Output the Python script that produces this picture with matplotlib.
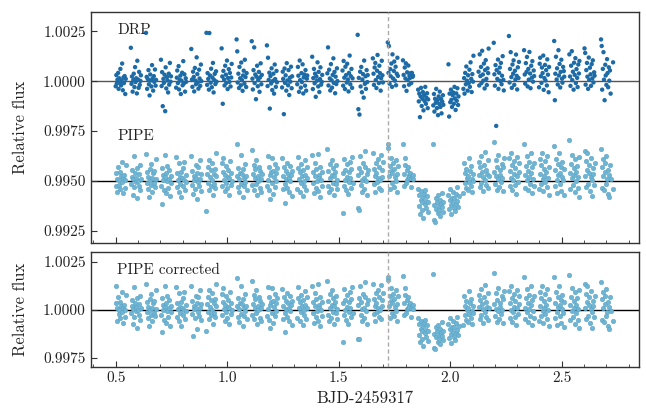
import matplotlib
matplotlib.use("Agg")
import matplotlib.pyplot as plt
from matplotlib.ticker import MultipleLocator, FormatStrFormatter
import numpy as np

# ---------------- data ----------------
# time (BJD - 2459317), one row per CHEOPS orbit segment
time_bjd = [
    0.500, 0.503, 0.505, 0.508, 0.511, 0.513, 0.516, 0.519, 0.521, 0.524, 0.527, 0.529, 0.532, 0.535, 0.537, 0.540, 0.543, 0.545,
    0.568, 0.571, 0.573, 0.576, 0.579, 0.581, 0.584, 0.587, 0.589, 0.592, 0.595, 0.597, 0.600, 0.603, 0.605, 0.608, 0.611, 0.613,
    0.636, 0.639, 0.641, 0.644, 0.647, 0.649, 0.652, 0.655, 0.657, 0.660, 0.663, 0.665, 0.668, 0.671, 0.673, 0.676, 0.679, 0.681,
    0.703, 0.706, 0.708, 0.711, 0.714, 0.716, 0.719, 0.722, 0.724, 0.727, 0.730, 0.732, 0.735, 0.738, 0.740, 0.743, 0.746, 0.748,
    0.771, 0.774, 0.776, 0.779, 0.782, 0.784, 0.787, 0.790, 0.792, 0.795, 0.798, 0.800, 0.803, 0.806, 0.808, 0.811, 0.814, 0.816,
    0.839, 0.842, 0.844, 0.847, 0.850, 0.852, 0.855, 0.858, 0.860, 0.863, 0.866, 0.868, 0.871, 0.874, 0.876, 0.879, 0.882, 0.884,
    0.907, 0.910, 0.912, 0.915, 0.918, 0.920, 0.923, 0.926, 0.928, 0.931, 0.934, 0.936, 0.939, 0.942, 0.944, 0.947, 0.950, 0.952,
    0.975, 0.978, 0.980, 0.983, 0.986, 0.988, 0.991, 0.994, 0.996, 0.999, 1.002, 1.004, 1.007, 1.010, 1.012, 1.015, 1.018, 1.020,
    1.042, 1.045, 1.047, 1.050, 1.053, 1.055, 1.058, 1.061, 1.063, 1.066, 1.069, 1.071, 1.074, 1.077, 1.079, 1.082, 1.085, 1.087,
    1.110, 1.113, 1.115, 1.118, 1.121, 1.123, 1.126, 1.129, 1.131, 1.134, 1.137, 1.139, 1.142, 1.145, 1.147, 1.150, 1.153, 1.155,
    1.178, 1.181, 1.183, 1.186, 1.189, 1.191, 1.194, 1.197, 1.199, 1.202, 1.205, 1.207, 1.210, 1.213, 1.215, 1.218, 1.221, 1.223,
    1.246, 1.249, 1.251, 1.254, 1.257, 1.259, 1.262, 1.265, 1.267, 1.270, 1.273, 1.275, 1.278, 1.281, 1.283, 1.286, 1.289, 1.291,
    1.314, 1.317, 1.319, 1.322, 1.325, 1.327, 1.330, 1.333, 1.335, 1.338, 1.341, 1.343, 1.346, 1.349, 1.351, 1.354, 1.357, 1.359,
    1.381, 1.384, 1.386, 1.389, 1.392, 1.394, 1.397, 1.400, 1.402, 1.405, 1.408, 1.410, 1.413, 1.416, 1.418, 1.421, 1.424, 1.426,
    1.449, 1.452, 1.454, 1.457, 1.460, 1.462, 1.465, 1.468, 1.470, 1.473, 1.476, 1.478, 1.481, 1.484, 1.486, 1.489, 1.492, 1.494,
    1.517, 1.520, 1.522, 1.525, 1.528, 1.530, 1.533, 1.536, 1.538, 1.541, 1.544, 1.546, 1.549, 1.552, 1.554, 1.557, 1.560, 1.562,
    1.585, 1.588, 1.590, 1.593, 1.596, 1.598, 1.601, 1.604, 1.606, 1.609, 1.612, 1.614, 1.617, 1.620, 1.622, 1.625, 1.628, 1.630,
    1.653, 1.656, 1.658, 1.661, 1.664, 1.666, 1.669, 1.672, 1.674, 1.677, 1.680, 1.682, 1.685, 1.688, 1.690, 1.693, 1.696, 1.698,
    1.720, 1.723, 1.725, 1.728, 1.731, 1.733, 1.736, 1.739, 1.741, 1.744, 1.747, 1.749, 1.752, 1.755, 1.757, 1.760, 1.763, 1.765,
    1.788, 1.791, 1.793, 1.796, 1.799, 1.801, 1.804, 1.807, 1.809, 1.812, 1.815, 1.817, 1.820, 1.823, 1.825, 1.828, 1.831, 1.833,
    1.856, 1.859, 1.861, 1.864, 1.867, 1.869, 1.872, 1.875, 1.877, 1.880, 1.883, 1.885, 1.888, 1.891, 1.893, 1.896, 1.899, 1.901,
    1.924, 1.927, 1.929, 1.932, 1.935, 1.937, 1.940, 1.943, 1.945, 1.948, 1.951, 1.953, 1.956, 1.959, 1.961, 1.964, 1.967, 1.969,
    1.992, 1.995, 1.997, 2.000, 2.003, 2.005, 2.008, 2.011, 2.013, 2.016, 2.019, 2.021, 2.024, 2.027, 2.029, 2.032, 2.035, 2.037,
    2.059, 2.062, 2.064, 2.067, 2.070, 2.072, 2.075, 2.078, 2.080, 2.083, 2.086, 2.088, 2.091, 2.094, 2.096, 2.099, 2.102, 2.104,
    2.127, 2.130, 2.132, 2.135, 2.138, 2.140, 2.143, 2.146, 2.148, 2.151, 2.154, 2.156, 2.159, 2.162, 2.164, 2.167, 2.170, 2.172,
    2.195, 2.198, 2.200, 2.203, 2.206, 2.208, 2.211, 2.214, 2.216, 2.219, 2.222, 2.224, 2.227, 2.230, 2.232, 2.235, 2.238, 2.240,
    2.263, 2.266, 2.268, 2.271, 2.274, 2.276, 2.279, 2.282, 2.284, 2.287, 2.290, 2.292, 2.295, 2.298, 2.300, 2.303, 2.306, 2.308,
    2.331, 2.334, 2.336, 2.339, 2.342, 2.344, 2.347, 2.350, 2.352, 2.355, 2.358, 2.360, 2.363, 2.366, 2.368, 2.371, 2.374, 2.376,
    2.398, 2.401, 2.403, 2.406, 2.409, 2.411, 2.414, 2.417, 2.419, 2.422, 2.425, 2.427, 2.430, 2.433, 2.435, 2.438, 2.441, 2.443,
    2.466, 2.469, 2.471, 2.474, 2.477, 2.479, 2.482, 2.485, 2.487, 2.490, 2.493, 2.495, 2.498, 2.501, 2.503, 2.506, 2.509, 2.511,
    2.534, 2.537, 2.539, 2.542, 2.545, 2.547, 2.550, 2.553, 2.555, 2.558, 2.561, 2.563, 2.566, 2.569, 2.571, 2.574, 2.577, 2.579,
    2.602, 2.605, 2.607, 2.610, 2.613, 2.615, 2.618, 2.621, 2.623, 2.626, 2.629, 2.631, 2.634, 2.637, 2.639, 2.642, 2.645, 2.647,
    2.676, 2.679, 2.681, 2.684, 2.687, 2.689, 2.692, 2.695, 2.697, 2.700, 2.703, 2.705, 2.708, 2.711, 2.713, 2.716, 2.719, 2.730,
]

# DRP relative flux, ppm from 1
drp_ppm = [
    -250, 310, -120, 80, 420, -380, 150, -60, 620, -210, 30, 890, -450, 190, -90, 260, -640, 120,
    1680, -130, 240, -520, 60, 380, -290, 710, -40, 150, -610, 1030, 90, -330, 470, -180, 20, 300,
    2430, 220, -380, 110, 560, -150, -710, 340, 40, -260, 810, 130, -470, 260, -30, 590, -220, 70,
    1080, -240, 460, -1250, 120, -80, 330, -1500, 700, -360, 210, 40, -560, 380, -170, 920, -20, 250,
    -320, 180, 540, -90, 760, -410, 70, 280, -640, 30, 430, -200, 1010, -110, 350, -520, 150, -30,
    1620, 90, -280, 480, 220, -510, 670, 30, -150, 1200, 360, -60, -370, 580, 140, -230, 840, 10,
    2430, -180, 410, 120, -420, 2420, 290, -70, 630, -300, 180, 920, -560, 60, 370, -140, 500, -20,
    1650, 240, -1130, 520, 90, -210, 780, 330, -80, 1040, -390, 160, 610, -30, 420, -260, 190, 870,
    2100, 1500, -60, 380, -340, 720, 150, -200, 940, 60, -480, 290, 530, -120, 1080, 210, -290, 410,
    2010, 130, -410, 560, 1700, -90, 340, -900, 230, 780, -250, 60, 470, -530, 190, 900, -150, 320,
    1800, -240, 1180, 70, 430, -1370, 260, -110, 650, -440, 20, 380, -620, 840, 110, -280, 520, -50,
    -310, 480, 120, -1650, 640, -80, 300, -470, 910, 40, -200, 560, -690, 180, -20, 730, -350, 250,
    -150, 720, 280, -530, 1040, 60, -320, 410, -40, 850, -610, 190, 340, -220, 560, -470, 130, 290,
    1230, -390, 160, 620, -100, 380, -780, 240, 30, 950, -260, 470, -540, 110, 700, -170, -30, 320,
    400, 1700, -210, 580, 140, -460, 860, 50, -320, 320, 1150, -80, 470, -600, 230, -140, 650, 10,
    540, -220, 1020, 180, -390, 730, 310, -60, 880, 90, -510, 420, 1290, -150, 260, 620, -330, 150,
    2330, -1400, 170, -1670, 480, -260, 720, -550, 90, 360, -820, 1040, -130, 250, -380, 560, -40, 310,
    1150, 380, -180, 690, 920, 60, -340, 530, 1320, 220, -90, 780, 410, -470, 150, 1030, 300, -60,
    1950, 420, 1770, -120, 610, 250, 890, -280, 1350, 140, 520, 990, 30, 730, -200, 380, 1180, 270,
    1050, 320, -250, 690, 140, 900, -480, 450, 60, 790, -170, 280, 170, 410, -90, 420, 220, 280,
    -420, -1010, -620, -1800, -760, -330, -1240, -880, -540, -1460, -700, -990, -280, -1130, -820, -600, -1350, -910,
    -1210, -640, -1520, -880, -1080, -380, -1350, -950, -1700, -760, -1140, -520, -1290, -890, -1610, -1020, -700, -1180,
    850, -1770, -620, -1050, -420, -930, -1290, -700, -560, -1130, -280, -860, -1440, -610, -980, -350, -1190, -760,
    -380, 160, -620, 420, -150, 740, 30, -470, 300, -90, 580, -280, 950, 120, -540, 360, -20, 1280,
    480, -210, 1350, 260, 720, -90, 1530, 340, 30, 890, -360, 560, 1060, 120, -190, 650, 410, 1640,
    1930, 350, -220, 810, -2240, 560, 120, 1090, -380, 430, 690, 20, 920, -150, 280, 1260, 70, -460,
    2270, -60, 620, 1460, 210, -330, 840, 380, 1050, -180, 530, 90, 1340, 270, -410, 700, 160, 970,
    1560, 340, -120, 910, 470, 1220, -260, 620, 80, 1470, 390, -350, 780, 180, 1010, -20, 540, 260,
    -300, 880, 1180, 250, -80, 690, 410, 1290, -430, 160, 820, 40, 560, -210, 1100, 330, -550, 720,
    2020, -950, 380, 1230, 90, 650, -160, 1560, 290, 870, -310, 470, 1080, 130, -70, 720, 510, 230,
    1350, 240, -230, 780, 1510, 60, 480, -420, 930, 320, 1160, -90, 610, 170, -290, 840, 390, 1020,
    1650, 1420, -170, 560, 920, 230, -380, 1190, 70, 680, 350, -230, 860, 140, 1050, -60, 450, 280,
    2100, 1770, -420, 620, 1460, 80, -950, 830, 290, -180, 1110, 410, -300, 700, 30, 540, -620, 950,
]

# PIPE relative flux, ppm from 1 (shown shifted down by 0.005)
pipe_ppm = [
    380, -260, 120, -540, 710, 30, -180, 450, -400, 240, -70, 960, -620, 160, 300, -330, 60, 820,
    -150, 560, 220, -720, 90, 1240, -310, 410, -40, 170, -880, 640, 10, -240, 330, -480, 780, 120,
    1360, -90, 470, -390, 200, -820, 610, 40, -210, 870, -560, 150, 380, -120, 520, -300, 1080, 80,
    -230, 640, -1150, 290, 50, -470, 1300, 180, -630, 420, -20, 740, -350, 120, 560, -780, 260, -90,
    1210, -310, 380, 60, -560, 890, 210, -140, 470, -800, 130, 660, -250, 30, 950, -430, 300, -40,
    1270, -190, 520, -640, 240, 60, -380, 780, 150, -930, 410, -60, 680, -270, 1050, 110, -510, 340,
    -1520, 340, -80, 720, 1060, -460, 190, 540, -230, 910, 40, -690, 370, -140, 600, -350, 250, 1380,
    880, -240, 450, 1160, 60, -530, 310, -90, 760, -360, 210, 540, -700, 150, 990, -180, 420, 20,
    1830, 230, -310, 660, 90, -580, 410, 1290, -170, 350, -820, 580, 130, -260, 870, -40, 260, -450,
    1530, -210, 360, 810, -460, 140, 590, -130, 1070, -690, 250, 20, 700, -370, 480, 110, -550, 330,
    -270, 1240, 60, -480, 720, 290, -900, 430, 1150, -110, 520, -640, 190, 850, -300, 380, -20, 640,
    1140, -410, 250, 690, -150, -1100, 480, 80, 920, -330, 370, -560, 140, 770, -20, 290, -740, 510,
    -380, 640, 1210, 120, -560, 430, -90, 830, 260, -770, 540, 20, -240, 1030, 310, -450, 160, 700,
    1290, -120, 450, -630, 920, 240, -330, 580, -20, 1360, -520, 310, 130, -790, 680, 50, -260, 440,
    1600, -240, 520, -560, 870, 130, -380, 1060, 310, -90, 640, -710, 230, 460, -150, 780, -420, 60,
    -1620, 380, 1110, -240, 560, 40, -470, 830, 210, -680, 450, -60, 970, 150, -330, 620, 1220, -120,
    -1350, 290, -1480, 640, 1260, -210, 470, 60, -560, 880, 130, -390, 720, 1510, -20, 340, -700, 560,
    1400, -160, 620, 250, -540, 890, 380, -70, 1090, 150, -330, 700, 40, 1320, -450, 530, 220, 930,
    1630, 1850, 240, -380, 760, 510, 1170, -120, 410, 880, -290, 620, 190, 1050, -20, 330, -560, 740,
    1850, 370, -240, 820, 1150, -110, 560, 60, 150, 690, 290, 190, 420, -320, 140, 240, 80, 310,
    -380, -1240, -720, -1650, -940, -530, -1460, -1050, -820, -1850, -660, -1150, -470, -1360, -990, -760, -1580, -1080,
    1850, -1950, -1210, -2080, -860, -1390, -1050, -1620, -730, -1280, -1460, -980, -1750, -1150, -600, -1330, -1040, -1540,
    -720, -1410, -950, -400, -1230, -1680, -840, -1100, -560, -1360, -870, -1520, -650, -1180, -320, -1020, -1290, -780,
    -610, 880, -120, 390, -350, 620, 160, -480, 240, 1150, -30, 510, -240, 730, 90, -560, 350, 20,
    960, 310, -280, 680, 1230, -90, 450, 190, -510, 820, 1450, 60, 560, -200, 340, 1040, -360, 240,
    1950, 470, -150, 1060, 230, -440, 680, 90, 1280, -310, 550, 310, -40, 870, 160, -520, 720, 1160,
    1160, -250, 520, 1400, 170, -460, 780, 60, 1010, 330, -190, 630, -640, 240, 1190, -30, 450, 900,
    1850, 290, -330, 760, 1230, 40, 520, -470, 960, 200, -150, 1380, 410, -600, 690, 120, 880, -260,
    -420, 1080, 360, -140, 780, 1420, 120, -520, 610, 260, 990, -70, 440, -300, 1250, 170, 720, -690,
    1750, -240, 540, 1120, 60, -620, 850, 300, 1400, -150, 420, 680, -490, 210, 960, 30, -720, 590,
    2050, 420, -380, 860, 1300, 130, -190, 630, 290, -560, 1080, 440, -20, 770, -340, 210, 1180, -790,
    1510, 260, -300, 980, 560, 1380, -140, 410, 820, -500, 190, 1130, 40, -780, 640, 350, -220, 900,
    1600, -360, 720, 1080, 240, -480, 900, 470, -140, 1250, 80, -650, 560, 300, -830, 810, 120, -420,
]

# PIPE corrected relative flux, ppm from 1
corr_ppm = [
    330, 1260, 90, -590, 650, -20, -210, 400, -440, 190, -110, 910, -660, 120, 260, -370, 10, 780,
    -190, 520, 180, -760, 50, 1200, -350, 370, -80, 130, -920, 600, -30, -280, 290, -520, 740, 80,
    1320, -130, 430, -430, 160, -860, 570, 0, -250, 830, -600, 110, 340, -160, 480, -340, 1040, 40,
    -270, 600, -1150, 250, 10, -510, 1260, 140, -670, 380, -60, 700, -390, 80, 520, -820, 220, -130,
    1170, -350, 340, 20, -600, 850, 170, -180, 430, -840, 90, 620, -290, -10, 910, -470, 260, -80,
    1230, -230, 480, -1350, 200, 20, -420, 740, 110, -970, 370, -100, 640, -310, 1010, 70, -550, 300,
    -1100, 300, -120, 680, 1020, -500, 150, 500, -270, 870, 0, -730, 330, -180, 560, -390, 210, 1340,
    840, -280, 410, 1120, 20, -570, 270, -130, 720, -400, 170, 500, -740, 110, 950, -220, 380, -20,
    1630, 190, -350, 620, 50, -620, 370, 1250, -210, 310, -860, 540, 90, -300, 830, -80, 220, -490,
    1490, -250, 320, 770, -500, 100, 550, -170, 1030, -730, 210, -20, 660, -410, 440, 70, -590, 290,
    -310, 1200, 20, -520, 680, 250, -940, 390, 1110, -150, 480, -680, 150, 810, -340, 340, -60, 600,
    1100, -450, 210, 650, -190, -1140, 440, 40, 880, -370, 330, -600, 100, 730, -60, 250, -780, 470,
    -420, 600, 1170, 80, -600, 390, -130, 790, 220, -810, 500, -20, -280, 990, 270, -490, 120, 660,
    1250, -160, 410, -670, 880, 200, -370, 540, -60, 1320, -560, 270, 90, -830, 640, 10, -300, 400,
    1500, -280, 480, -600, 830, 90, -420, 1020, 270, -130, 600, -750, 190, 420, -190, 740, -460, 20,
    -1690, 340, 1070, -280, 520, 0, -510, 790, 170, -720, 410, -100, 930, 110, -370, 580, 1180, -160,
    -1500, 250, -1520, 600, 1220, -250, 430, 20, -600, 840, 90, -430, 680, 1450, -60, 300, -740, 520,
    1360, -200, 580, 210, -580, 850, 340, -110, 1050, 110, -370, 660, 0, 1280, -490, 490, 180, 890,
    1550, 1700, 200, -420, 720, 470, 1130, -160, 370, 840, -330, 580, 150, 1010, -60, 290, -600, 700,
    1780, 330, -280, 780, 1110, -150, 520, 20, 110, 650, 250, 150, 380, -360, 100, 200, 40, 260,
    -420, -1280, -760, -1690, -980, -570, -1500, -1090, -860, -1890, -700, -1190, -510, -1400, -1030, -800, -1620, -1120,
    1870, -1960, -1250, -2030, -900, -1430, -1090, -1660, -770, -1320, -1500, -1020, -1790, -1190, -640, -1370, -1080, -1580,
    -760, -1450, -990, -440, -1270, -1720, -880, -1140, -600, -1400, -910, -1560, -690, -1220, -360, -1060, -1330, -820,
    -780, 710, -290, 220, -520, 450, -10, -650, 70, 980, -200, 340, -410, 560, -80, -730, 180, -150,
    790, 140, -450, 510, 1060, -260, 280, 20, -680, 650, 1280, -110, 390, -370, 170, 870, -530, 70,
    1930, 300, -320, 890, 60, -610, 510, -80, 1110, -480, 380, 140, -210, 700, -10, -690, 550, 990,
    990, -420, 350, 1230, 0, -630, 610, -110, 840, 160, -360, 460, -810, 70, 1020, -200, 280, 730,
    1680, 120, -500, 590, 1060, -130, 350, -640, 790, 30, -320, 1210, 240, -770, 520, -50, 710, -430,
    -590, 910, 190, -310, 610, 1250, -50, -690, 440, 90, 820, -240, 270, -470, 1080, 0, 550, -860,
    1700, -410, 370, 950, -110, -790, 680, 130, 1230, -320, 250, 510, -660, 40, 790, -140, -890, 420,
    1800, 250, -550, 690, 1130, -40, -360, 460, 120, -730, 910, 270, -190, 600, -510, 40, 1010, -960,
    1340, 90, -470, 810, 390, 1210, -310, 240, 650, -670, 20, 960, -130, -950, 470, 180, -390, 730,
    1430, -530, 550, 910, 70, -650, 730, 300, -310, 1080, -90, -820, 390, 130, -1000, 640, -50, -590,
]

pipe_offset = -0.005
t_mark = 1.72

# ---------------- style ----------------
plt.rcParams.update({
    "font.family": "serif",
    "font.serif": ["cmr10"],
    "mathtext.fontset": "cm",
    "axes.unicode_minus": False,
    "axes.formatter.use_mathtext": True,
    "font.size": 11,
})

t = np.asarray(time_bjd)
drp = 1 + np.asarray(drp_ppm) * 1e-6
pipe = 1 + np.asarray(pipe_ppm) * 1e-6
corr = 1 + np.asarray(corr_ppm) * 1e-6

fig = plt.figure(figsize=(6.46, 4.08), dpi=100)
ax1 = fig.add_axes([0.1404, 0.4051, 0.8480, 0.5662])
ax2 = fig.add_axes([0.1404, 0.1012, 0.8480, 0.2812], sharex=ax1)

c_drp = "#1c6aa6"
c_pipe = "#6db5d5"
c_pipe_edge = "#5a9ec0"
spine_c = "#333333"

ax1.axhline(1.0, color="#555555", lw=1.0, zorder=1)
ax1.axhline(1.0 + pipe_offset, color="black", lw=1.0, zorder=1)
ax1.scatter(t, drp, s=10, color=c_drp, edgecolors="none", zorder=2)
ax1.scatter(t, pipe + pipe_offset, s=11, color=c_pipe, edgecolors=c_pipe_edge,
            linewidths=0.3, zorder=2)

ax2.axhline(1.0, color="black", lw=1.0, zorder=1)
ax2.scatter(t, corr, s=11, color=c_pipe, edgecolors=c_pipe_edge,
            linewidths=0.3, zorder=2)

for ax in (ax1, ax2):
    ax.axvline(t_mark, color="#aaaaaa", lw=1.0, ls=(0, (3, 2)), zorder=3)
    for sp in ax.spines.values():
        sp.set_color(spine_c)
        sp.set_linewidth(1.0)
    ax.tick_params(axis="both", which="both", direction="in", top=False,
                   right=False, colors=spine_c, labelcolor="#222222")
    ax.tick_params(axis="both", which="major", length=4, width=0.8, labelsize=11)
    ax.tick_params(axis="x", which="minor", length=2, width=0.6)
    ax.yaxis.set_major_formatter(FormatStrFormatter("%.4f"))
    ax.set_ylabel("Relative flux", fontsize=12, color="#222222")
    ax.yaxis.set_label_coords(-0.114, 0.5)

ax1.set_xlim(0.388, 2.844)
ax1.xaxis.set_major_locator(MultipleLocator(0.5))
ax1.xaxis.set_minor_locator(MultipleLocator(0.1))
ax1.xaxis.set_major_formatter(FormatStrFormatter("%.1f"))
ax1.set_ylim(0.9919, 1.00349)
ax1.yaxis.set_major_locator(MultipleLocator(0.0025))
plt.setp(ax1.get_xticklabels(), visible=False)

ax2.set_ylim(0.99705, 1.0030)
ax2.yaxis.set_major_locator(MultipleLocator(0.0025))
ax2.set_xlabel("BJD-2459317", fontsize=12, color="#222222")

ax1.text(0.048, 0.921, "DRP", transform=ax1.transAxes, ha="left", va="center",
         fontsize=11, color="#222222")
ax1.text(0.048, 0.462, "PIPE", transform=ax1.transAxes, ha="left", va="center",
         fontsize=11, color="#222222")
ax2.text(0.048, 0.843, "PIPE corrected", transform=ax2.transAxes, ha="left",
         va="center", fontsize=11, color="#222222")

fig.savefig("out.png", dpi=100)
